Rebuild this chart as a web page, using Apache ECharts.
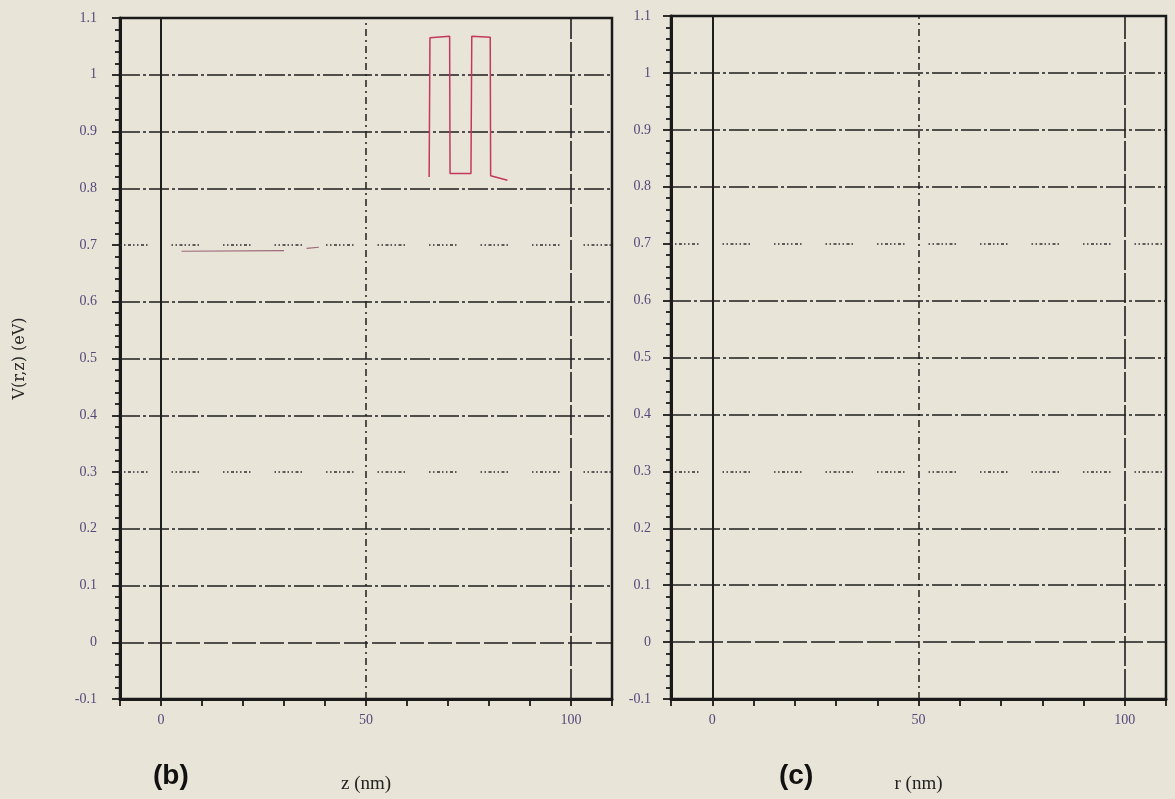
<!DOCTYPE html>
<html>
<head>
<meta charset="utf-8">
<script src="https://cdn.jsdelivr.net/npm/echarts@6/dist/echarts.min.js"></script>
<style>
html,body{margin:0;padding:0;background:#e9e4d8;}
#chart{width:1175px;height:799px;}
</style>
</head>
<body>
<div id="chart"></div>
<script>
// ---- data ----
const xTickLabels = [0, 50, 100];
const gridYDashed = [0.1, 0.2, 0.4, 0.5, 0.6, 0.8, 0.9, 1.0];
const gridYDotted = [0.3, 0.7];
const gridYZero = [0];
const gridXSolid = [0];
const gridXDashDot = [50];
const gridXLongDash = [100];

// panel (b): potential profile along z
const barrierZ = [65.4, 65.6, 70.4, 70.5, 75.6, 75.8, 80.3, 80.4, 84.5];
const barrierV = [0.820, 1.065, 1.068, 0.826, 0.826, 1.068, 1.066, 0.822, 0.814];
const wellZ1 = [5, 30];
const wellV1 = [0.689, 0.690];
const wellZ2 = [35.5, 38.5];
const wellV2 = [0.694, 0.696];

const pairs = (xs, ys) => xs.map((x, i) => [x, ys[i]]);

const labelColor = '#54497a';
const ink = '#1a1a1a';

function xAxisDef(gridIndex, name) {
  return {
    type: 'value', gridIndex, min: -10, max: 110, interval: 10,
    name, nameLocation: 'middle', nameGap: 76,
    nameTextStyle: {fontFamily: 'Liberation Serif', fontSize: 19, color: '#222'},
    axisLine: {show: true, onZero: false, lineStyle: {color: ink, width: 3}},
    axisTick: {show: true, inside: false, length: 7, lineStyle: {color: ink, width: 1.8}},
    axisLabel: {
      margin: 14, color: labelColor, fontFamily: 'Liberation Serif', fontSize: 14,
      formatter: v => (xTickLabels.indexOf(Math.round(v)) >= 0 ? String(Math.round(v)) : '')
    },
    splitLine: {show: false}
  };
}
function yAxisDef(gridIndex, margin, name) {
  return {
    type: 'value', gridIndex, min: -0.1, max: 1.1, interval: 0.1,
    name: name || '', nameLocation: 'middle', nameGap: 92,
    nameTextStyle: {fontFamily: 'DejaVu Serif', fontSize: 16, color: '#262626'},
    axisLine: {show: true, onZero: false, lineStyle: {color: ink, width: 3}},
    axisTick: {show: true, inside: false, length: 8, lineStyle: {color: ink, width: 1.8}},
    minorTick: {show: true, splitNumber: 5, length: 5, lineStyle: {color: ink, width: 1.8}},
    axisLabel: {margin, color: labelColor, fontFamily: 'Liberation Serif', fontSize: 14},
    splitLine: {show: false}
  };
}

function gridLines(xi, yi) {
  const dashed = {color: '#1e1e1e', width: 1.5, type: [20, 3, 3, 3]};
  const dotted = {color: '#2e2e2e', width: 1.5, type: [1.5, 2.5, 1.5, 2.5, 3, 2, 1.5, 2.5, 1.5, 2.5, 3, 2, 1.5, 24]};
  const data = [];
  gridYDashed.forEach(v => data.push({yAxis: v, lineStyle: dashed}));
  gridYZero.forEach(v => data.push({yAxis: v, lineStyle: {color: '#1e1e1e', width: 1.5, type: [24, 4]}}));
  gridYDotted.forEach(v => data.push({yAxis: v, lineStyle: dotted}));
  gridXSolid.forEach(v => data.push({xAxis: v, lineStyle: {color: '#1e1e1e', width: 2, type: 'solid'}}));
  gridXDashDot.forEach(v => data.push({xAxis: v, lineStyle: {color: '#1e1e1e', width: 1.5, type: [7, 4, 2, 4]}}));
  gridXLongDash.forEach(v => data.push({xAxis: v, lineStyle: {color: '#1e1e1e', width: 1.6, type: [30, 3]}}));
  return {
    type: 'line', xAxisIndex: xi, yAxisIndex: yi, data: [], silent: true, z: 1,
    markLine: {silent: true, symbol: ['none', 'none'], label: {show: false}, animation: false, data}
  };
}

const chart = echarts.init(document.getElementById('chart'), null, {renderer: 'canvas'});
chart.setOption({
  animation: false,
  backgroundColor: '#e9e4d8',
  title: [
    {text: '(b)', left: 148, top: 757, textStyle: {fontFamily: 'Liberation Sans', fontWeight: 'bold', fontSize: 28, color: '#111'}},
    {text: '(c)', left: 774, top: 757, textStyle: {fontFamily: 'Liberation Sans', fontWeight: 'bold', fontSize: 28, color: '#111'}}
  ],
  grid: [
    {left: 120, top: 18, width: 492, height: 684, show: true, borderColor: ink, borderWidth: 2.5, backgroundColor: 'transparent'},
    {left: 671, top: 16, width: 495, height: 684, show: true, borderColor: ink, borderWidth: 2.5, backgroundColor: 'transparent'}
  ],
  xAxis: [xAxisDef(0, 'z (nm)'), xAxisDef(1, 'r (nm)')],
  yAxis: [yAxisDef(0, 23, 'V(r,z) (eV)'), yAxisDef(1, 20)],
  series: [
    gridLines(0, 0),
    gridLines(1, 1),
    {type: 'line', xAxisIndex: 0, yAxisIndex: 0, data: pairs(barrierZ, barrierV), showSymbol: false, z: 5,
     lineStyle: {color: '#c4385e', width: 1.5}},
    {type: 'line', xAxisIndex: 0, yAxisIndex: 0, data: pairs(wellZ1, wellV1), showSymbol: false, z: 5,
     lineStyle: {color: '#9c6878', width: 1.2}},
    {type: 'line', xAxisIndex: 0, yAxisIndex: 0, data: pairs(wellZ2, wellV2), showSymbol: false, z: 5,
     lineStyle: {color: '#9c6878', width: 1.2}}
  ]
});
</script>
</body>
</html>
